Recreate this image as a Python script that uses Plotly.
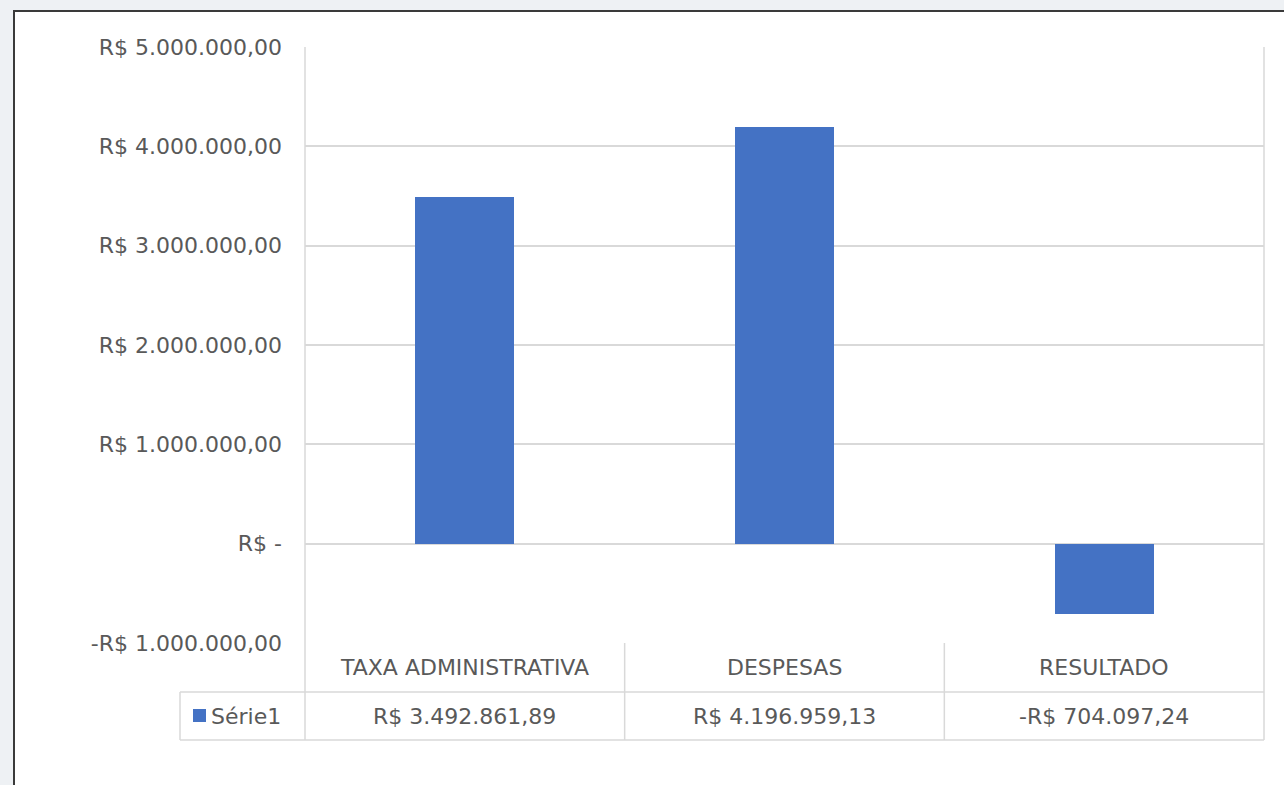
import plotly.graph_objects as go

# dados do grafico
categorias = ["TAXA ADMINISTRATIVA", "DESPESAS", "RESULTADO"]
valores = [3492861.89, 4196959.13, -704097.24]
serie = "Série1"
ticks_y = [5000000, 4000000, 3000000, 2000000, 1000000, 0, -1000000]
ticks_txt = ["R$ 5.000.000,00", "R$ 4.000.000,00", "R$ 3.000.000,00", "R$ 2.000.000,00",
             "R$ 1.000.000,00", "R$ -", "-R$ 1.000.000,00"]

AZUL = "#4472C4"
CINZA = "#595959"
LINHA = "#d9d9d9"
FONTE = "DejaVu Sans"
TAM = 22
FUNDO = "#eef1f4"


def moeda(v):
    s = f"{abs(v):,.2f}".replace(",", "X").replace(".", ",").replace("X", ".")
    return ("-" if v < 0 else "") + "R$ " + s


# area do grafico em pixels
L, R, T, B = 305, 1264, 47, 643
W, H = 1284, 785


def px(x):
    return (x - L) / (R - L)


def py(y):
    return (B - y) / (B - T)


fig = go.Figure()
fig.add_trace(go.Bar(x=categorias, y=valores, marker=dict(color=AZUL, line=dict(width=0)),
                     width=0.31, name=serie, showlegend=False))

shapes = []
# fundo / borda externa
shapes.append(dict(type="rect", xref="paper", yref="paper", x0=px(14), x1=px(1400), y0=py(11), y1=py(900),
                   fillcolor="white", line=dict(color="#3a3a3a", width=2), layer="below"))


def linha(x0, y0, x1, y1):
    shapes.append(dict(type="line", xref="paper", yref="paper", x0=px(x0), x1=px(x1), y0=py(y0), y1=py(y1),
                       line=dict(color=LINHA, width=1.5)))


# bordas da tabela de dados
n = len(categorias)
bordas = [L + (R - L) * i / n for i in range(n + 1)]
linha(L, T, L, 740)
linha(R, T, R, 740)
for b in bordas[1:-1]:
    linha(b, B, b, 740)
linha(180, 692, R, 692)
linha(180, 740, R, 740)
linha(180, 692, 180, 740)
# marcador da legenda
shapes.append(dict(type="rect", xref="paper", yref="paper", x0=px(193), x1=px(206), y0=py(709), y1=py(722),
                   fillcolor=AZUL, line=dict(width=0)))

anots = []
for c, v in zip(categorias, valores):
    anots.append(dict(x=c, xref="x", y=py(667), yref="paper", yanchor="middle", text=c, showarrow=False,
                      font=dict(family=FONTE, size=TAM, color=CINZA)))
    anots.append(dict(x=c, xref="x", y=py(716), yref="paper", yanchor="middle", text=moeda(v), showarrow=False,
                      font=dict(family=FONTE, size=TAM, color=CINZA)))
anots.append(dict(x=px(209), xref="paper", y=py(716), yref="paper", yanchor="middle", text=serie,
                  showarrow=False, xanchor="left", font=dict(family=FONTE, size=TAM, color=CINZA)))

fig.update_layout(
    width=W, height=H,
    margin=dict(l=L, r=W - R, t=T, b=H - B, pad=0),
    paper_bgcolor=FUNDO,
    plot_bgcolor="white",
    shapes=shapes,
    annotations=anots,
    bargap=0,
    xaxis=dict(showticklabels=False, showgrid=False, zeroline=False, range=[-0.5, 2.5], fixedrange=True),
    yaxis=dict(range=[-1000000, 5000000], tickvals=ticks_y, ticktext=ticks_txt,
               showgrid=True, gridcolor=LINHA, gridwidth=1.5, zeroline=True, zerolinecolor=LINHA,
               zerolinewidth=1.5, ticks="", ticklabelstandoff=22,
               tickfont=dict(family=FONTE, size=TAM, color=CINZA)),
    font=dict(family=FONTE),
)

fig.write_html("out.html", config={"displayModeBar": False},
               post_script="document.body.style.margin='0';document.body.style.overflow='hidden';"
                           "document.body.style.background='" + FUNDO + "';")
